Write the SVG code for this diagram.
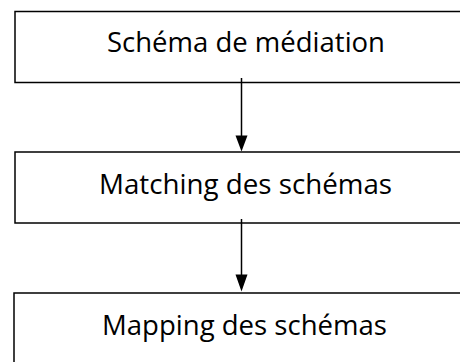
<svg xmlns="http://www.w3.org/2000/svg" width="460" height="362" viewBox="0 0 460 362">
<style>
.box{fill:#fff;stroke:#000;stroke-width:1.5}
.lbl{font-family:"Open Sans","Noto Sans","Liberation Sans",sans-serif;font-size:28px;fill:#000;text-anchor:middle}
.edge{stroke:#000;stroke-width:1.5;fill:none}
.head{fill:#000}
</style>
<rect width="460" height="362" fill="#fff"/>
<g id="node1">
<rect class="box" x="15" y="11.5" width="470" height="71"/>
<text class="lbl" x="246" y="52" textLength="278" lengthAdjust="spacingAndGlyphs">Schéma de médiation</text>
</g>
<g id="node2">
<rect class="box" x="15" y="152" width="470" height="71"/>
<text class="lbl" x="245.5" y="194" textLength="293" lengthAdjust="spacingAndGlyphs">Matching des schémas</text>
</g>
<g id="node3">
<rect class="box" x="14" y="293" width="470" height="80"/>
<text class="lbl" x="244.5" y="335" textLength="285" lengthAdjust="spacingAndGlyphs">Mapping des schémas</text>
</g>
<g id="connectors">
<line class="edge" x1="241.5" y1="78" x2="241.5" y2="137"/>
<polygon class="head" points="235.5,135.5 247.5,135.5 241.5,151.5"/>
<line class="edge" x1="241.5" y1="219" x2="241.5" y2="276"/>
<polygon class="head" points="235.5,274.5 247.5,274.5 241.5,291.5"/>
</g>
</svg>
